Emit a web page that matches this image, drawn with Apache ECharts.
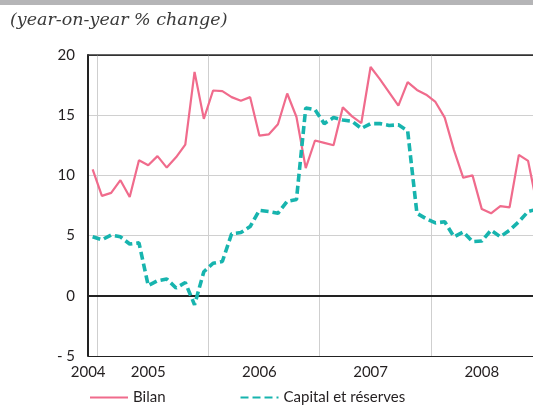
<!DOCTYPE html>
<html>
<head>
<meta charset="utf-8">
<script src="https://cdn.jsdelivr.net/npm/echarts@6/dist/echarts.min.js"></script>
<style>
  html, body { margin: 0; padding: 0; background: #fff; }
  #main { width: 533px; height: 405px; }
</style>
</head>
<body>
<div id="main"></div>
<script>
// monthly observations, Dec 2004 - Dec 2008
var months = [
  "2004-12",
  "2005-01", "2005-02", "2005-03", "2005-04", "2005-05", "2005-06",
  "2005-07", "2005-08", "2005-09", "2005-10", "2005-11", "2005-12",
  "2006-01", "2006-02", "2006-03", "2006-04", "2006-05", "2006-06",
  "2006-07", "2006-08", "2006-09", "2006-10", "2006-11", "2006-12",
  "2007-01", "2007-02", "2007-03", "2007-04", "2007-05", "2007-06",
  "2007-07", "2007-08", "2007-09", "2007-10", "2007-11", "2007-12",
  "2008-01", "2008-02", "2008-03", "2008-04", "2008-05", "2008-06",
  "2008-07", "2008-08", "2008-09", "2008-10", "2008-11", "2008-12"
];

var bilan = [
  10.5,
  8.3, 8.55, 9.6, 8.2, 11.25, 10.85, 11.6, 10.65, 11.5, 12.55, 18.6, 14.7,
  17.05, 17.0, 16.5, 16.2, 16.5, 13.3, 13.4, 14.25, 16.8, 14.85, 10.6, 12.9,
  12.7, 12.5, 15.65, 14.9, 14.35, 19.0, 18.0, 16.9, 15.8, 17.75, 17.1, 16.7,
  16.1, 14.8, 12.1, 9.8, 10.0, 7.2, 6.85, 7.45, 7.35, 11.7, 11.2, 7.4
];

var capital = [
  4.9,
  4.65, 5.05, 4.9, 4.3, 4.4, 0.85, 1.25, 1.4, 0.65, 1.1, -0.75, 2.0,
  2.7, 2.85, 5.15, 5.25, 5.75, 7.1, 7.0, 6.85, 7.85, 8.0, 15.6, 15.45,
  14.3, 14.8, 14.6, 14.5, 13.9, 14.3, 14.3, 14.15, 14.2, 13.7, 6.85, 6.4,
  6.05, 6.15, 4.9, 5.3, 4.5, 4.55, 5.45, 4.9, 5.45, 6.15, 7.0, 7.2
];

var seriesNames = ["Bilan", "Capital et réserves"];

var txt = "#231f20";
var font = "Lato";

var chartDom = document.getElementById("main");
var myChart = echarts.init(chartDom);

var option = {
  animation: false,
  graphic: [
    {
      type: "rect",
      left: 0,
      top: 0,
      shape: { width: 533, height: 5 },
      style: { fill: "#b5b5b7" }
    },
    {
      type: "text",
      left: 10,
      top: 11,
      style: {
        text: "(year-on-year % change)",
        font: "italic 17.5px 'DejaVu Serif'",
        fill: "#3a3a3a"
      }
    }
  ],
  // plot runs past the right edge of the picture, last month is cut
  grid: {
    left: 88,
    top: 55,
    bottom: 49,
    right: -9,
    outerBoundsMode: "none",
    containLabel: false
  },
  legend: {
    left: 84,
    top: 385,
    itemWidth: 38,
    itemHeight: 14,
    itemGap: 74,
    data: seriesNames,
    itemStyle: { opacity: 0 },
    textStyle: { fontFamily: font, fontSize: 15, color: txt }
  },
  xAxis: [
    {
      type: "category",
      data: months,
      boundaryGap: true,
      axisLine: { lineStyle: { color: "#222", width: 2 } },
      axisTick: { show: false },
      axisLabel: {
        interval: function (index, value) {
          return index === 0 || value.slice(5) === "06";
        },
        formatter: function (value, index) {
          if (index === 0) return "{f|" + value.slice(0, 4) + "}";
          return value.slice(0, 4);
        },
        rich: {
          f: { fontFamily: font, fontSize: 15, color: txt, padding: [0, 9, 0, 0] }
        },
        fontFamily: font,
        fontSize: 15,
        color: txt,
        margin: 9
      },
      splitLine: {
        show: true,
        interval: function (index) {
          return index % 12 === 1;
        },
        lineStyle: { color: "#cfcfcf", width: 1 }
      }
    },
    {
      type: "category",
      data: months,
      position: "top",
      axisLine: { lineStyle: { color: "#333", width: 1.5 } },
      axisTick: { show: false },
      axisLabel: { show: false },
      splitLine: { show: false }
    }
  ],
  yAxis: {
    type: "value",
    min: -5,
    max: 20,
    interval: 5,
    axisLine: { show: true, lineStyle: { color: "#222", width: 2 } },
    axisTick: { show: false },
    axisLabel: {
      fontFamily: font,
      fontSize: 15,
      color: txt,
      margin: 13,
      formatter: function (v) {
        return v < 0 ? "- " + Math.abs(v) : String(v);
      }
    },
    splitLine: {
      lineStyle: {
        color: ["#222", "#222", "#d0d0d0", "#d0d0d0", "#d0d0d0", "#333"],
        width: 1
      }
    }
  },
  series: [
    {
      name: seriesNames[0],
      type: "line",
      data: bilan,
      symbol: "none",
      lineStyle: { color: "#f06b8c", width: 2.2 },
      itemStyle: { color: "#f06b8c" }
    },
    {
      name: seriesNames[1],
      type: "line",
      data: capital,
      symbol: "none",
      z: 3,
      lineStyle: { color: "#17b4ae", width: 3.6, type: [8, 4] },
      itemStyle: { color: "#17b4ae" }
    }
  ]
};

option && myChart.setOption(option);
</script>
</body>
</html>
